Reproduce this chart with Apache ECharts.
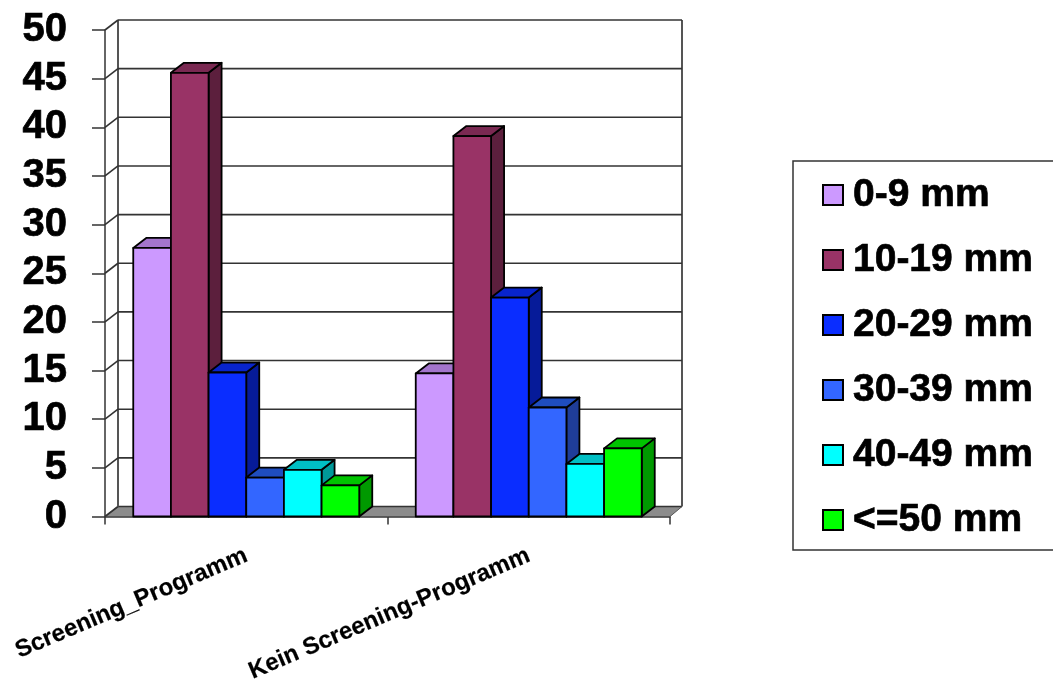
<!DOCTYPE html>
<html>
<head>
<meta charset="utf-8">
<style>html,body{margin:0;padding:0;background:#fff}#chart{width:1053px;height:679px}</style>
<script src="https://cdn.jsdelivr.net/npm/echarts@6/dist/echarts.min.js"></script>
</head>
<body>
<div id="chart"></div>
<script>
const categories = ['Screening_Programm', 'Kein Screening-Programm'];
const sizes = ['0-9 mm', '10-19 mm', '20-29 mm', '30-39 mm', '40-49 mm', '<=50 mm'];
const size0to9 = [27.6, 14.7];
const size10to19 = [45.6, 39.1];
const size20to29 = [14.8, 22.5];
const size30to39 = [4.0, 11.2];
const size40to49 = [4.8, 5.4];
const size50plus = [3.2, 7.0];
const yTicks = [0, 5, 10, 15, 20, 25, 30, 35, 40, 45, 50];

const seriesValues = [size0to9, size10to19, size20to29, size30to39, size40to49, size50plus];
// front, top and side faces of each column
const palette = [
  ['#CC99FF', '#A375CC', '#7A5C99'],
  ['#993366', '#7A2952', '#5C1F3D'],
  ['#0A2DFF', '#0824CC', '#061B99'],
  ['#3366FF', '#1F4DBF', '#1F3D99'],
  ['#00FFFF', '#00BFC4', '#009999'],
  ['#00FF00', '#00C400', '#009900']
];

// depth of the extruded plot box, in pixels
const DX = 13, DY = -10;
const GROUP_FILL = 0.8;
const EDGE = { stroke: '#000', lineWidth: 1.8, lineJoin: 'round' };
const FONT = '"Liberation Sans", Arial, sans-serif';

function renderColumn(seriesIndex, params, api) {
  const band = api.size([1, 0])[0];
  const bw = band * GROUP_FILL / seriesValues.length;
  const top = api.coord([api.value(0), api.value(1)]);
  const base = api.coord([api.value(0), 0]);
  const x0 = top[0] - band * GROUP_FILL / 2 + seriesIndex * bw;
  const x1 = x0 + bw;
  const c = palette[seriesIndex];
  const poly = (points, fill) => ({
    type: 'polygon',
    shape: { points },
    style: Object.assign({ fill }, EDGE)
  });
  return {
    type: 'group',
    children: [
      poly([[x1, top[1]], [x1 + DX, top[1] + DY], [x1 + DX, base[1] + DY], [x1, base[1]]], c[2]),
      poly([[x0, top[1]], [x0 + DX, top[1] + DY], [x1 + DX, top[1] + DY], [x1, top[1]]], c[1]),
      poly([[x0, top[1]], [x1, top[1]], [x1, base[1]], [x0, base[1]]], c[0])
    ]
  };
}

// back wall lines, the left-hand diagonals and the grey floor
function renderWall(params, api) {
  const cs = params.coordSys;
  const y = api.coord([0, api.value(0)])[1];
  const left = cs.x, right = cs.x + cs.width;
  const line = { stroke: '#333', lineWidth: 1.6 };
  const children = [
    { type: 'line', shape: { x1: left + DX, y1: y + DY, x2: right + DX - 1, y2: y + DY }, style: line },
    { type: 'line', shape: { x1: left, y1: y, x2: left + DX, y2: y + DY }, style: line }
  ];
  if (api.value(0) === 0) {
    children.unshift({
      type: 'polygon',
      shape: { points: [[left, y], [left + DX, y + DY], [right + DX - 1, y + DY], [right, y]] },
      style: { fill: '#8C8C8C', stroke: '#555', lineWidth: 1 }
    });
    const topY = api.coord([0, 50])[1] + DY;
    children.push(
      { type: 'line', shape: { x1: left + DX, y1: topY, x2: left + DX, y2: y + DY }, style: { stroke: '#555', lineWidth: 2 } },
      { type: 'line', shape: { x1: right + DX - 1, y1: topY, x2: right + DX - 1, y2: y + DY }, style: { stroke: '#555', lineWidth: 2 } }
    );
  }
  return { type: 'group', children };
}

const chart = echarts.init(document.getElementById('chart'), null, { renderer: 'canvas' });
chart.setOption({
  animation: false,
  backgroundColor: '#fff',
  textStyle: { fontFamily: FONT },
  grid: { left: 105, right: 383, top: 30, height: 486.5, containLabel: false, outerBoundsMode: 'none' },
  xAxis: {
    type: 'category',
    data: categories,
    axisLine: { lineStyle: { color: '#333', width: 1.5 } },
    axisTick: { show: true, length: 8, lineStyle: { color: '#333', width: 1.5 } },
    axisLabel: {
      interval: 0, rotate: 23, margin: 38,
      fontFamily: FONT,
      fontWeight: 'bold', fontSize: 24, color: '#000',
      textBorderColor: '#000', textBorderWidth: 0.2
    }
  },
  yAxis: {
    type: 'value',
    min: 0, max: 50, interval: 5,
    splitLine: { show: false },
    axisLine: { show: true, lineStyle: { color: '#333', width: 1.5 } },
    axisTick: { show: true, length: 13, lineStyle: { color: '#333', width: 1.5 } },
    axisLabel: {
      margin: 38,
      fontFamily: FONT,
      fontWeight: 'bold', fontSize: 40, color: '#000',
      textBorderColor: '#000', textBorderWidth: 0.7,
      padding: [6, 0, 0, 0]
    }
  },
  legend: {
    data: sizes,
    orient: 'vertical',
    left: 793, top: 161,
    padding: [11, 40, 7, 29],
    itemGap: 19,
    itemWidth: 20, itemHeight: 20,
    icon: 'rect',
    selectedMode: false,
    backgroundColor: '#fff',
    borderColor: '#333',
    borderWidth: 1.5,
    borderRadius: 0,
    itemStyle: { borderColor: '#000', borderWidth: 2 },
    textStyle: {
      fontFamily: FONT,
      fontWeight: 'bold', fontSize: 39, color: '#000',
      textBorderColor: '#000', textBorderWidth: 0.7,
      lineHeight: 40, padding: [6, 0, 0, 5]
    }
  },
  series: [
    {
      type: 'custom', name: 'wall', silent: true, z: 1,
      data: yTicks.map(t => [t]),
      encode: { y: 0 },
      renderItem: renderWall
    }
  ].concat(seriesValues.map((values, i) => ({
    type: 'custom',
    name: sizes[i],
    z: 2 + i,
    itemStyle: { color: palette[i][0] },
    data: values.map((v, c) => [c, v]),
    encode: { x: 0, y: 1 },
    renderItem: (params, api) => renderColumn(i, params, api)
  })))
});
</script>
</body>
</html>
